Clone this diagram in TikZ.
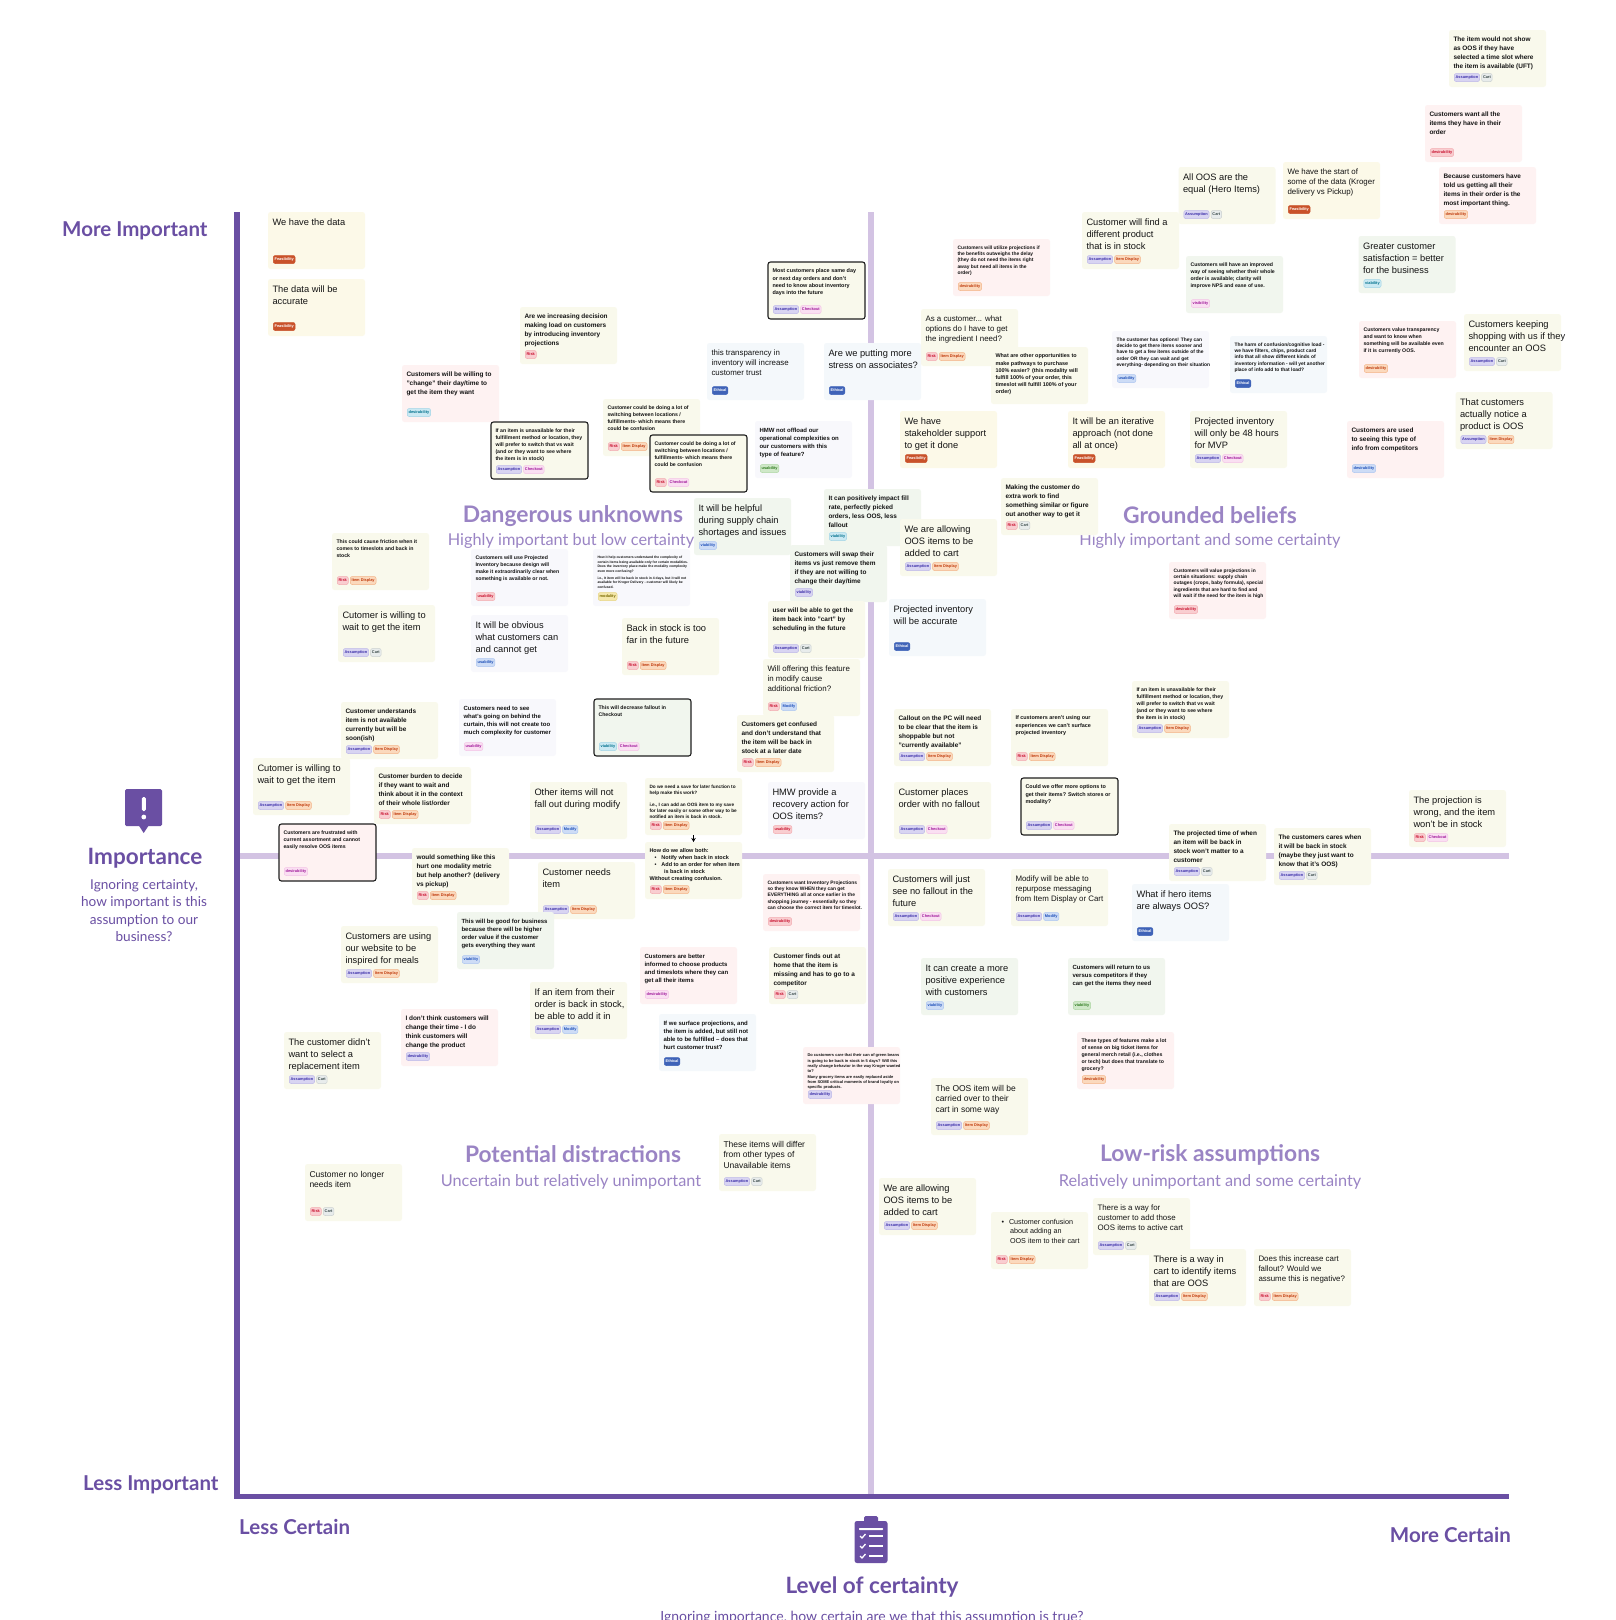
\documentclass[tikz,border=0pt]{standalone}
\usepackage{fontspec}
\setmainfont{Liberation Sans}
\newfontfamily\headfont{Lato}
\usetikzlibrary{arrows.meta,calc}
\definecolor{cYG}{HTML}{F9F9EC}
\definecolor{cCream}{HTML}{FCF9E8}
\definecolor{cPink}{HTML}{FEF2F2}
\definecolor{cGreen}{HTML}{F1F6EE}
\definecolor{cBlue}{HTML}{F4F8FB}
\definecolor{cLav}{HTML}{F8F8FC}
\definecolor{axisdark}{HTML}{6A4FA3}
\definecolor{axislight}{HTML}{D3C3E3}
\definecolor{quadtitle}{HTML}{9A84C4}
\newcommand\fL{\fontsize{9.3}{12}\selectfont}
\newcommand\fP{\fontsize{8.5}{10.8}\selectfont}
\newcommand\fN{\fontsize{7.9}{10}\selectfont}
\newcommand\fM{\fontsize{6.45}{9}\selectfont\bfseries}
\newcommand\fQ{\fontsize{6.0}{8}\selectfont\bfseries}
\newcommand\fS{\fontsize{5.45}{7.1}\selectfont\bfseries}
\newcommand\fR{\fontsize{5.2}{7}\selectfont\bfseries}
\newcommand\fT{\fontsize{4.9}{6.2}\selectfont\bfseries}
\newcommand\fU{\fontsize{4.0}{5.3}\selectfont\bfseries}
\newcommand\fV{\fontsize{3.4}{4.7}\selectfont\bfseries}
\newcount\tgn
\newcommand\card[7]{\def\curid{#1}%
  \node[cardbox,#4] (#1) at (#2,#3) {};
  \node[cardtext,font=#5] (#1-text) at ([xshift=4.5pt,yshift=-7pt]#1.north west) {#6};
  \coordinate (tagcur) at ([xshift=5pt,yshift=-47.5pt]#1.north west);
  \global\tgn=0 #7}
\newcommand\tg[2]{%
  \node[tagbase,#1] (\curid-t\the\tgn) at (tagcur) {#2};
  \coordinate (tagcur) at ([xshift=1.5pt]\curid-t\the\tgn.east);
  \global\advance\tgn by 1 }
\newcommand\tAss{\tg{tPurple}{Assumption}}
\newcommand\tCart{\tg{tGrey}{Cart}}
\newcommand\tItem{\tg{tOrange}{Item Display}}
\newcommand\tRisk{\tg{tRed}{Risk}}
\newcommand\tChk{\tg{tPinkish}{Checkout}}
\newcommand\tMod{\tg{tBlueish}{Modify}}
\newcommand\tFeas{\tg{tFeas}{Feasibility}}
\newcommand\tEth{\tg{tEth}{Ethical}}
\begin{document}
\begin{tikzpicture}[x=1pt,y=-1pt,
  cardbox/.style={anchor=north west,minimum width=97pt,minimum height=57pt,inner sep=0pt,outer sep=0pt,rounded corners=2.5pt},
  yg/.style={fill=cYG},cream/.style={fill=cCream},pink/.style={fill=cPink},
  green/.style={fill=cGreen},blue/.style={fill=cBlue},lav/.style={fill=cLav},
  outl/.style={draw=black!88,line width=1.1pt},
  cardtext/.style={anchor=north west,inner sep=0pt,outer sep=0pt,align=left,text=black!92},
  tagbase/.style={anchor=west,rounded corners=2pt,line width=0.5pt,inner xsep=1.4pt,inner ysep=0pt,minimum height=8pt,font=\fontsize{3.9}{4}\selectfont\bfseries},
  tPurple/.style={fill=Pf,draw=Pd,text=Pt},
  tGrey/.style={fill=Gf,draw=Gd,text=Gt},
  tOrange/.style={fill=Of,draw=Od,text=Ot},
  tRed/.style={fill=Rf,draw=Rd,text=Rt},
  tPinkish/.style={fill=Kf,draw=Kd,text=Kt},
  tBlueish/.style={fill=Bf,draw=Bd,text=Bt},
  tTeal/.style={fill=Tf,draw=Td,text=Tt},
  tLeaf/.style={fill=Lf,draw=Ld,text=Lt},
  tSand/.style={fill=Sf,draw=Sd,text=St},
  tFeas/.style={fill=feas,draw=feas,text=white},
  tEth/.style={fill=ethi,draw=ethi,text=white},
  qtitle/.style={font=\headfont\bfseries\fontsize{22.8}{26}\selectfont,text=quadtitle},
  qsub/.style={font=\headfont\fontsize{16.3}{20}\selectfont,text=quadtitle},
  axislabel/.style={inner sep=0pt,font=\headfont\bfseries\fontsize{20.5}{24}\selectfont,text=axisdark},
  axtitle/.style={font=\headfont\bfseries\fontsize{22.5}{26}\selectfont,text=axisdark},
  axdesc/.style={font=\headfont\fontsize{13.6}{17.4}\selectfont,text=axisdark,align=center},
]
\definecolor{Pf}{HTML}{D8D4F2}\definecolor{Pd}{HTML}{BDB8E8}\definecolor{Pt}{HTML}{3B2EA8}
\definecolor{Gf}{HTML}{E8ECEC}\definecolor{Gd}{HTML}{CBD0D0}\definecolor{Gt}{HTML}{3A4A4A}
\definecolor{Of}{HTML}{FBD9BD}\definecolor{Od}{HTML}{F3B488}\definecolor{Ot}{HTML}{BF3A0C}
\definecolor{Rf}{HTML}{F9CDD0}\definecolor{Rd}{HTML}{F2ABB0}\definecolor{Rt}{HTML}{C8102E}
\definecolor{Kf}{HTML}{FADFF2}\definecolor{Kd}{HTML}{F3C3E6}\definecolor{Kt}{HTML}{A0189A}
\definecolor{Bf}{HTML}{CDDCF6}\definecolor{Bd}{HTML}{ADC6F0}\definecolor{Bt}{HTML}{1D4FB8}
\definecolor{Tf}{HTML}{CBE9F3}\definecolor{Td}{HTML}{A0D4E6}\definecolor{Tt}{HTML}{00708C}
\definecolor{Lf}{HTML}{CFE8C8}\definecolor{Ld}{HTML}{AED6A3}\definecolor{Lt}{HTML}{2E7A1E}
\definecolor{Sf}{HTML}{F5E8AC}\definecolor{Sd}{HTML}{E8D584}\definecolor{St}{HTML}{7A6A00}
\definecolor{feas}{HTML}{C9522A}\definecolor{ethi}{HTML}{3F63B8}
\useasboundingbox (0,0) rectangle (1616,1620);
\fill[white] (0,0) rectangle (1616,1620);
% axes
\coordinate (vtop) at (871,212);\coordinate (vbot) at (871,1494);
\coordinate (hl) at (240,856);\coordinate (hr) at (1509,856);
\coordinate (ytop) at (237,212);\coordinate (origin) at (237,1496.5);\coordinate (xr) at (1509,1496.5);
\draw[axislight,line width=6pt] (vtop) -- (vbot);
\draw[axislight,line width=6pt] (hl) -- (hr);
\draw[axisdark,line width=5.5pt] (ytop) -- (origin) -- (xr);
% axis labels
\node[axislabel,anchor=west] (moreimp) at (62,231) {More Important};
\node[axislabel,anchor=west] (lessimp) at (83,1485) {Less Important};
\node[axislabel,anchor=west] (lesscert) at (239,1527) {Less Certain};
\node[axislabel,anchor=east] (morecert) at (1511,1535) {More Certain};
\node[axtitle] (imptitle) at (145,858) {Importance};
\node[axdesc,anchor=north] (impdesc) at (144,876) {Ignoring certainty,\\how important is this\\assumption to our\\business?};
\node[axtitle] (certtitle) at (872,1587) {Level of certainty};
\node[axdesc,anchor=base,font=\headfont\fontsize{14}{17}\selectfont] (certdesc) at (872,1621) {Ignoring importance, how certain are we that this assumption is true?};
% importance icon
\fill[axisdark,rounded corners=1.5pt] (125,789) rectangle (162,826);
\fill[axisdark] (138.5,825) -- (149,825) -- (143.7,833) -- cycle;
\fill[white,rounded corners=1.5pt] (141.8,797) rectangle (145.8,811);
\fill[white] (143.8,817) circle (2.4);
% clipboard icon
\fill[axisdark,rounded corners=2.5pt] (854.5,1521) rectangle (887.5,1563);
\fill[axisdark,rounded corners=1.5pt] (864,1516) rectangle (878,1526);
\fill[white,rounded corners=0.6pt] (859,1528) rectangle (883,1530);
\foreach \yy in {1536,1546,1556}{
  \draw[white,line width=1.3pt] (860,\yy) -- (862,\yy+2) -- (865.5,\yy-2);
  \draw[white,line width=1.8pt] (869,\yy) -- (883,\yy);
}
% quadrant titles
\node[qtitle] (q1) at (573,516) {Dangerous unknowns};
\node[qsub] (q1s) at (571,541) {Highly important but low certainty};
\node[qtitle] (q2) at (1210,515) {Grounded beliefs};
\node[qsub] (q2s) at (1210,541) {Highly important and some certainty};
\node[qtitle] (q3) at (573,1154) {Potential distractions};
\node[qsub] (q3s) at (571,1182) {Uncertain but relatively unimportant};
\node[qtitle] (q4) at (1210,1155) {Low-risk assumptions};
\node[qsub] (q4s) at (1210,1182) {Relatively unimportant and some certainty};
% cards
\card{a1}{1449}{30}{yg}{\fM}{The item would not show\\as OOS if they have\\selected a time slot where\\the item is available (UFT)}{\tAss\tCart}
\card{a2}{1425}{105}{pink}{\fM}{Customers want all the\\items they have in their\\order}{\tg{tRed}{desirability}}
\card{a3}{1439}{167}{pink}{\fM}{Because customers have\\told us getting all their\\items in their order is the\\most important thing.}{\tg{tOrange}{desirability}}
\card{a4}{1178.5}{167}{yg}{\fL}{All OOS are the\\equal (Hero Items)}{\tAss\tCart}
\card{a5}{1283}{162}{cream}{\fN}{We have the start of\\some of the data (Kroger\\delivery vs Pickup)}{\tFeas}
\card{a6}{1082}{212}{yg}{\fL}{Customer will find a\\different product\\that is in stock}{\tAss\tItem}
\card{a7}{1186}{256}{green}{\fR}{Customers will have an improved\\way of seeing whether their whole\\order is available; clarity will\\improve NPS and ease of use.}{\tg{tPinkish}{visibility}}
\card{a8}{1358.5}{236}{green}{\fL}{Greater customer\\satisfaction = better\\for the business}{\tg{tTeal}{viability}}
\card{a9}{1359}{321}{pink}{\fR}{Customers value transparency\\and want to know when\\something will be available even\\if it is currently OOS.}{\tg{tOrange}{desirability}}
\card{a10}{1464}{314}{yg}{\fL}{Customers keeping\\shopping with us if they\\encounter an OOS}{\tAss\tCart}
\card{a11}{1455.5}{392}{yg}{\fL}{That customers\\actually notice a\\product is OOS}{\tAss\tItem}
\card{a12}{1112}{331}{lav}{\fT}{The customer has options! They can\\decide to get there items sooner and\\have to get a few items outside of the\\order OR they can wait and get\\everything- depending on their situation}{\tg{tBlueish}{usability}}
\card{a13}{1230}{336}{blue}{\fT}{The harm of confusion/cognitive load -\\we have filters, chips, product card\\info that all show different kinds of\\inventory information - will yet another\\place of info add to that load?}{\tEth}
\card{b0}{953}{239}{pink}{\fT}{Customers will utilize projections if\\the benefits outweighs the delay\\(they do not need the items right\\away but need all items in the\\order)}{\tg{tOrange}{desirability}}
\card{b1}{921}{309}{yg}{\fN}{As a customer... what\\options do I have to get\\the ingredient I need?}{\tRisk\tItem}
\card{b2}{824}{343}{blue}{\fL}{Are we putting more\\stress on associates?}{\tEth}
\card{b3}{991}{347}{yg}{\fS}{What are other opportunities to\\make pathways to purchase\\100\% easier? (this modality will\\fulfill 100\% of your order, this\\timeslot will fulfill 100\% of your\\order)}{}
\card{b4}{900}{411}{cream}{\fL}{We have\\stakeholder support\\to get it done}{\tFeas}
\card{b5}{1068}{411}{cream}{\fL}{It will be an iterative\\approach (not done\\all at once)}{\tFeas}
\card{b6}{1190}{411}{yg}{\fL}{Projected inventory\\will only be 48 hours\\for MVP}{\tAss\tChk}
\card{b7}{1347}{421}{pink}{\fM}{Customers are used\\to seeing this type of\\info from competitors}{\tg{tBlueish}{desirability}}
\card{b8}{1001}{478}{yg}{\fM}{Making the customer do\\extra work to find\\something similar or figure\\out another way to get it}{\tRisk\tCart}
\card{c1}{824}{489}{green}{\fM}{It can positively impact fill\\rate, perfectly picked\\orders, less OOS, less\\fallout}{\tg{tTeal}{viability}}
\card{b9}{900}{519}{yg}{\fL}{We are allowing\\OOS items to be\\added to cart}{\tAss\tItem}
\card{b10}{1169}{562}{pink}{\fT}{Customers will value projections in\\certain situations: supply chain\\outages (crops, baby formula), special\\ingredients that are hard to find and\\will wait if the need for the item is high}{\tg{tRed}{desirability}}
\card{d1}{268}{212}{cream}{\fL}{We have the data}{\tFeas}
\card{d2}{268}{279}{cream}{\fL}{The data will be\\accurate}{\tFeas}
\card{d3}{520}{307}{yg}{\fM}{Are we increasing decision\\making load on customers\\by introducing inventory\\projections}{\tRisk}
\card{d4}{402}{365}{pink}{\fM}{Customers will be willing to\\"change" their day/time to\\get the item they want}{\tg{tTeal}{desirability}}
\card{d5}{603}{399}{yg}{\fR}{Customer could be doing a lot of\\switching between locations /\\fulfillments- which means there\\could be confusion}{\tRisk\tItem}
\card{d6}{491}{422}{yg,outl}{\fR}{If an item is unavailable for their\\fulfillment method or location, they\\will prefer to switch that vs wait\\(and or they want to see where\\the item is in stock)}{\tAss\tChk}
\card{d7}{650}{435}{yg,outl}{\fR}{Customer could be doing a lot of\\switching between locations /\\fulfillments- which means there\\could be confusion}{\tRisk\tChk}
\card{d8}{768}{262}{yg,outl}{\fS}{Most customers place same day\\or next day orders and don't\\need to know about inventory\\days into the future}{\tAss\tChk}
\card{d9}{707}{343}{blue}{\fN}{this transparency in\\inventory will increase\\customer trust}{\tEth}
\card{d10}{755}{421}{lav}{\fQ}{HMW not offload our\\operational complexities on\\our customers with this\\type of feature?}{\tg{tLeaf}{usability}}
\card{d11}{694}{498}{green}{\fL}{It will be helpful\\during supply chain\\shortages and issues}{\tg{tBlueish}{viability}}
\card{d12}{790}{545}{green}{\fM}{Customers will swap their\\items vs just remove them\\if they are not willing to\\change their day/time}{\tg{tPurple}{viability}}
\card{e1}{332}{533}{yg}{\fR}{This could cause friction when it\\comes to timeslots and back in\\stock}{\tRisk\tItem}
\card{e2}{471}{549}{lav}{\fR}{Customers will use Projected\\Inventory because design will\\make it extraordinarily clear when\\something is available or not.}{\tg{tRed}{usability}}
\card{e3}{593}{549}{lav}{\fV}{How it help customers understand the complexity of\\certain items being available only for certain modalities.\\Does the inventory place make the modality complexity\\even more confusing?\\[2pt]i.e., It item will be back in stock in 4 days, but it will not\\available for Kroger Delivery - customer will likely be\\confused.}{\tg{tSand}{modality}}
\card{e4}{338}{605}{yg}{\fL}{Cutomer is willing to\\wait to get the item}{\tAss\tCart}
\card{e5}{471}{615}{lav}{\fL}{It will be obvious\\what customers can\\and cannot get}{\tg{tBlueish}{usability}}
\card{e6}{622}{618}{yg}{\fL}{Back in stock is too\\far in the future}{\tRisk\tItem}
\card{e7}{341}{702}{yg}{\fM}{Customer understands\\item is not available\\currently but will be\\soon(ish)}{\tAss\tItem}
\card{e8}{459}{699}{lav}{\fQ}{Customers need to see\\what's going on behind the\\curtain, this will not create too\\much complexity for customer}{\tg{tPinkish}{usability}}
\card{e9}{594}{699}{green,outl}{\fR}{This will decrease fallout in\\Checkout}{\tg{tTeal}{viability}\tChk}
\card{e10}{374}{767}{yg}{\fM}{Customer burden to decide\\if they want to wait and\\think about it in the context\\of their whole list/order}{\tRisk\tItem}
\card{e11}{530}{782}{yg}{\fL}{Other items will not\\fall out during modify}{\tAss\tMod}
\card{f1}{768}{601}{yg}{\fM}{user will be able to get the\\item back into "cart" by\\scheduling in the future}{\tAss\tCart}
\card{f2}{889}{599}{blue}{\fL}{Projected inventory\\will be accurate}{\tEth}
\card{f3}{763}{659}{yg}{\fN}{Will offering this feature\\in modify cause\\additional friction?}{\tRisk\tMod}
\card{f4}{737}{715}{yg}{\fM}{Customers get confused\\and don't understand that\\the item will be back in\\stock at a later date}{\tRisk\tItem}
\card{f5}{768}{782}{lav}{\fL}{HMW provide a\\recovery action for\\OOS items?}{\tg{tRed}{usability}}
\card{f6}{894}{709}{yg}{\fM}{Callout on the PC will need\\to be clear that the item is\\shoppable but not\\"currently available"}{\tAss\tItem}
\card{f7}{1011}{709}{yg}{\fS}{If customers aren't using our\\experiences we can't surface\\projected inventory}{\tRisk\tItem}
\card{f8}{894}{782}{yg}{\fL}{Customer places\\order with no fallout}{\tAss\tChk}
\card{f9}{1021}{778}{yg,outl}{\fS}{Could we offer more options to\\get their items? Switch stores or\\modality?}{\tAss\tChk}
\card{g1}{253}{758}{yg}{\fL}{Cutomer is willing to\\wait to get the item}{\tAss\tItem}
\card{g2}{412}{848}{yg}{\fM}{would something like this\\hurt one modality metric\\but help another? (delivery\\vs pickup)}{\tRisk\tItem}
\card{g3}{279}{824}{pink,outl}{\fR}{Customers are frustrated with\\current assortment and cannot\\easily resolve OOS items}{\tg{tPinkish}{desirability}}
\card{g4}{538}{862}{yg}{\fL}{Customer needs\\item}{\tAss\tItem}
\card{g5}{457}{912}{green}{\fQ}{This will be good for business\\because there will be higher\\order value if the customer\\gets everything they want}{\tg{tBlueish}{viability}}
\card{g6}{341}{926}{yg}{\fL}{Customers are using\\our website to be\\inspired for meals}{\tAss\tItem}
\card{g7}{530}{982}{yg}{\fL}{If an item from their\\order is back in stock,\\be able to add it in}{\tAss\tMod}
\card{g8}{401}{1009}{pink}{\fM}{I don't think customers will\\change their time - I do\\think customers will\\change the product}{\tg{tPurple}{desirability}}
\card{g9}{284}{1032}{yg}{\fL}{The customer didn't\\want to select a\\replacement item}{\tAss\tCart}
\card{save}{645}{778}{yg}{\fontsize{4.7}{6}\selectfont\bfseries}{Do we need a save for later function to\\help make this work?\\[6pt]i.e., I can add an OOS item to my save\\for later easily or some other way to be\\notified an item is back in stock.}{\tRisk\tItem}
\card{howdo}{645}{842}{yg}{\fontsize{5.5}{7}\selectfont\bfseries}{How do we allow both:\\\hspace*{5pt}•\hspace*{5pt}Notify when back in stock\\\hspace*{5pt}•\hspace*{5pt}Add to an order for when item\\\hspace*{14.5pt}is back in stock\\Without creating confusion.}{\tRisk\tItem}
\draw[-{Stealth[length=4pt,width=4.5pt]},black,line width=0.8pt] (save.south) -- (howdo.north);
\card{h1}{763}{874}{pink}{\fT}{Customers want Inventory Projections\\so they know WHEN they can get\\EVERYTHING all at once earlier in the\\shopping journey - essentially so they\\can choose the correct item for timeslot.}{\tg{tRed}{desirability}}
\card{h2}{640}{947}{pink}{\fQ}{Customers are better\\informed to choose products\\and timeslots where they can\\get all their items}{\tg{tPinkish}{desirability}}
\card{h3}{769}{947}{yg}{\fM}{Customer finds out at\\home that the item is\\missing and has to go to a\\competitor}{\tRisk\tCart}
\card{h4}{659}{1014}{blue}{\fQ}{If we surface projections, and\\the item is added, but still not\\able to be fulfilled -- does that\\hurt customer trust?}{\tEth}
\card{h5}{803}{1047}{pink}{\fU}{Do customers care that their can of green beans\\is going to be back in stock in 5 days? Will this\\really change behavior in the way Kroger wanted\\to?\\Many grocery items are easily replaced aside\\from SOME critical moments of brand loyalty on\\specific products.}{\tg{tPurple}{desirability}}
\card{i1}{1132}{681}{yg}{\fR}{If an item is unavailable for their\\fulfillment method or location, they\\will prefer to switch that vs wait\\(and or they want to see where\\the item is in stock)}{\tAss\tItem}
\card{i2}{1169}{824}{yg}{\fM}{The projected time of when\\an item will be back in\\stock won't matter to a\\customer}{\tAss\tCart}
\card{i3}{1274}{828}{yg}{\fM}{The customers cares when\\it will be back in stock\\(maybe they just want to\\know that it's OOS)}{\tAss\tCart}
\card{i4}{1409}{790}{yg}{\fL}{The projection is\\wrong, and the item\\won't be in stock}{\tRisk\tChk}
\card{i5}{1132}{884}{blue}{\fL}{What if hero items\\are always OOS?}{\tEth}
\card{i6}{888}{869}{yg}{\fL}{Customers will just\\see no fallout in the\\future}{\tAss\tChk}
\card{i7}{1011}{869}{yg}{\fN}{Modify will be able to\\repurpose messaging\\from Item Display or Cart}{\tAss\tMod}
\card{j1}{921}{958}{green}{\fL}{It can create a more\\positive experience\\with customers}{\tg{tBlueish}{viability}}
\card{j2}{1068}{958}{green}{\fQ}{Customers will return to us\\versus competitors if they\\can get the items they need}{\tg{tLeaf}{viability}}
\card{j3}{1077}{1032}{pink}{\fR}{These types of features make a lot\\of sense on big ticket items for\\general merch retail (i.e., clothes\\or tech) but does that translate to\\grocery?}{\tg{tOrange}{desirability}}
\card{j4}{931}{1078}{yg}{\fP}{The OOS item will be\\carried over to their\\cart in some way}{\tAss\tItem}
\card{j5}{879}{1178}{yg}{\fL}{We are allowing\\OOS items to be\\added to cart}{\tAss\tItem}
\card{j6}{991}{1212}{yg}{\fontsize{7.2}{9.6}\selectfont}{\hspace*{6pt}•\hspace*{5pt}Customer confusion\\\hspace*{14.5pt}about adding an\\\hspace*{14.5pt}OOS item to their cart}{\tRisk\tItem}
\card{j7}{1093}{1198}{yg}{\fN}{There is a way for\\customer to add those\\OOS items to active cart}{\tAss\tCart}
\card{j8}{1149}{1249}{yg}{\fL}{There is a way in\\cart to identify items\\that are OOS}{\tAss\tItem}
\card{j9}{1254}{1249}{yg}{\fN}{Does this increase cart\\fallout? Would we\\assume this is negative?}{\tRisk\tItem}
\card{j10}{719}{1134}{yg}{\fP}{These items will differ\\from other types of\\Unavailable items}{\tAss\tCart}
\card{j11}{305}{1164}{yg}{\fP}{Customer no longer\\needs item}{\tRisk\tCart}
\end{tikzpicture}
\end{document}
